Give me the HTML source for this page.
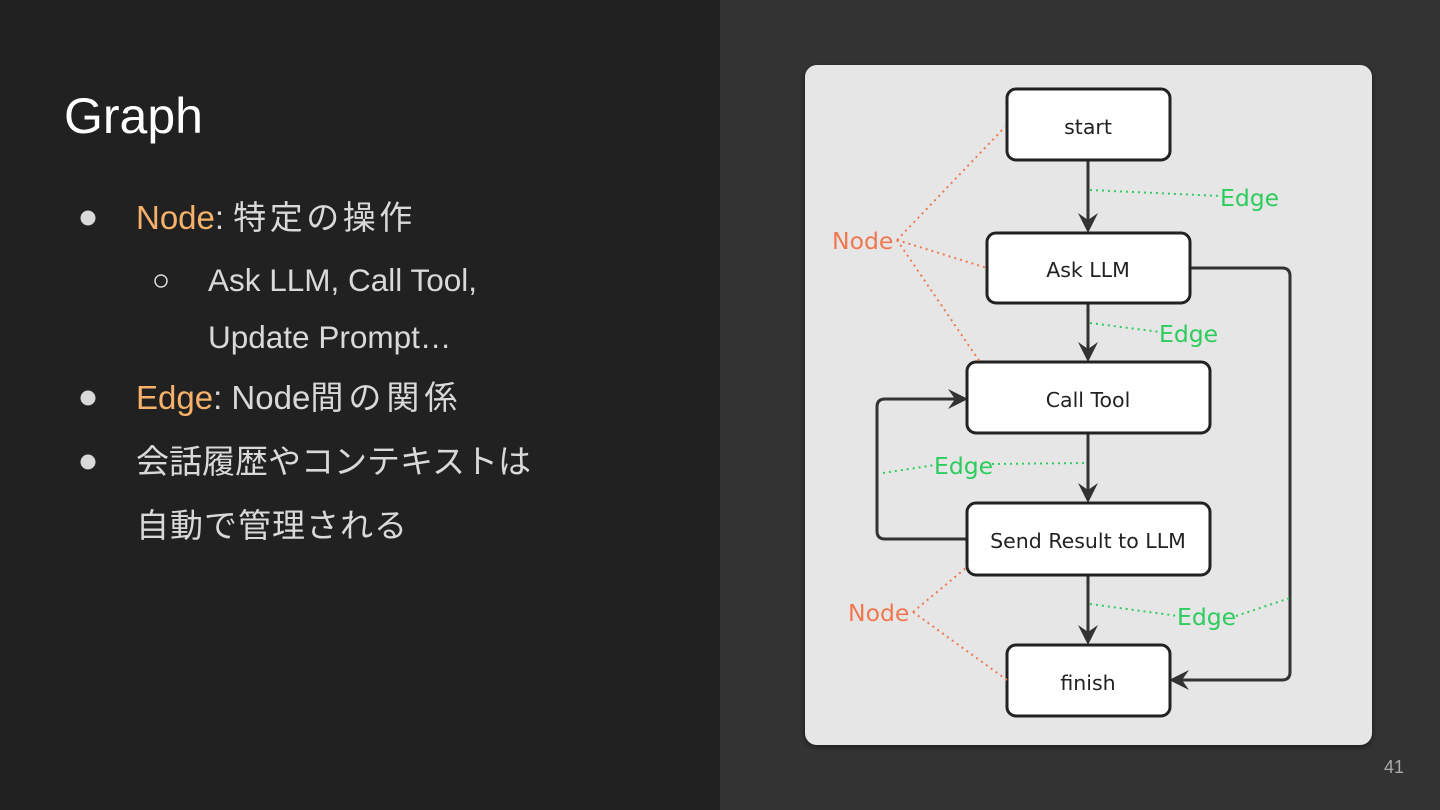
<!DOCTYPE html>
<html><head><meta charset="utf-8"><style>
html,body{margin:0;padding:0;width:1440px;height:810px;overflow:hidden;background:#212121}
svg{display:block}
</style></head><body>
<svg width="1440" height="810" viewBox="0 0 1440 810" xmlns="http://www.w3.org/2000/svg">
<defs>
<filter id="sh" x="-5%" y="-5%" width="110%" height="110%"><feDropShadow dx="0" dy="2" stdDeviation="3" flood-color="#000" flood-opacity="0.5"/></filter>
</defs>
<rect x="0" y="0" width="720" height="810" fill="#212121"/>
<rect x="720" y="0" width="720" height="810" fill="#333333"/>
<g font-family="Liberation Sans, Noto Sans CJK JP, sans-serif">
<text x="64" y="133" font-size="50" fill="#ffffff">Graph</text>
<circle cx="88" cy="218" r="7.5" fill="#d9d9d9"/>
<text x="136" y="229" font-size="33" fill="#d9d9d9"><tspan fill="#f6b26b">Node</tspan>: <tspan letter-spacing="3.5">特定の操作</tspan></text>
<circle cx="161" cy="281" r="6" fill="none" stroke="#d9d9d9" stroke-width="1.5"/>
<text x="208" y="291" font-size="31.5" fill="#d9d9d9">Ask LLM, Call Tool,</text>
<text x="208" y="348" font-size="31.5" fill="#d9d9d9">Update Prompt…</text>
<circle cx="88" cy="398" r="7.5" fill="#d9d9d9"/>
<text x="136" y="409" font-size="33" fill="#d9d9d9"><tspan fill="#f6b26b">Edge</tspan>: Node<tspan letter-spacing="5">間の関係</tspan></text>
<circle cx="88" cy="462" r="7.5" fill="#d9d9d9"/>
<text x="136" y="473" font-size="33" fill="#d9d9d9">会話履歴やコンテキストは</text>
<text x="136" y="537" font-size="33" fill="#d9d9d9" letter-spacing="1">自動で管理される</text>
<text x="1384" y="773" font-size="18" fill="#aaaaaa">41</text>
</g>
<rect x="805" y="65" width="567" height="680" rx="12" fill="#e6e6e6" filter="url(#sh)"/>
<g stroke="#333" stroke-width="3" fill="none">
<line x1="1088" y1="160" x2="1088" y2="225"/>
<line x1="1088" y1="303" x2="1088" y2="354"/>
<line x1="1088" y1="433" x2="1088" y2="495"/>
<line x1="1088" y1="575" x2="1088" y2="637"/>
<path d="M1190,268 H1282 Q1290,268 1290,276 V672 Q1290,680 1282,680 H1178"/>
<path d="M967,539 H885 Q877,539 877,531 V407 Q877,399 885,399 H958"/>
</g>
<g fill="#333">
<polygon points="1088,233 1078,213 1088,220 1098,213"/>
<polygon points="1088,362 1078,342 1088,349 1098,342"/>
<polygon points="1088,503 1078,483 1088,490 1098,483"/>
<polygon points="1088,645 1078,625 1088,632 1098,625"/>
<polygon points="1169,680 1189,670 1182,680 1189,690"/>
<polygon points="968,399 948,389 955,399 948,409"/>
</g>
<g stroke="#222" stroke-width="3" fill="#fff">
<rect x="1007" y="89" width="163" height="71" rx="9"/>
<rect x="987" y="233" width="203" height="70" rx="9"/>
<rect x="967" y="362" width="243" height="71" rx="9"/>
<rect x="967" y="503" width="243" height="72" rx="9"/>
<rect x="1007" y="645" width="163" height="71" rx="9"/>
</g>
<g font-family="DejaVu Sans, Liberation Sans, sans-serif" font-size="20.5" fill="#222" text-anchor="middle">
<text x="1088" y="134">start</text>
<text x="1088" y="277">Ask LLM</text>
<text x="1088" y="407">Call Tool</text>
<text x="1088" y="548">Send Result to LLM</text>
<text x="1088" y="690">finish</text>
</g>
<g stroke-width="2" stroke-dasharray="2,4" fill="none">
<g stroke="#2ecc5e">
<line x1="1090" y1="190" x2="1220" y2="196"/>
<line x1="1090" y1="323" x2="1160" y2="332"/>
<line x1="883" y1="473" x2="935" y2="465"/>
<line x1="992" y1="464" x2="1088" y2="463"/>
<line x1="1090" y1="604" x2="1178" y2="616"/>
<line x1="1236" y1="616" x2="1290" y2="598"/>
</g>
<g stroke="#f07850">
<line x1="897" y1="240" x2="1005" y2="127"/>
<line x1="897" y1="240" x2="987" y2="268"/>
<line x1="897" y1="240" x2="980" y2="362"/>
<line x1="913" y1="612" x2="967" y2="567"/>
<line x1="913" y1="612" x2="1007" y2="680"/>
</g>
</g>
<g font-family="DejaVu Sans, Liberation Sans, sans-serif" font-size="23.5">
<text x="1220" y="206" fill="#2ecc5e">Edge</text>
<text x="1159" y="342" fill="#2ecc5e">Edge</text>
<text x="934" y="474" fill="#2ecc5e">Edge</text>
<text x="1177" y="625" fill="#2ecc5e">Edge</text>
<text x="832" y="249" fill="#f07850">Node</text>
<text x="848" y="621" fill="#f07850">Node</text>
</g>
</svg>
</body></html>
